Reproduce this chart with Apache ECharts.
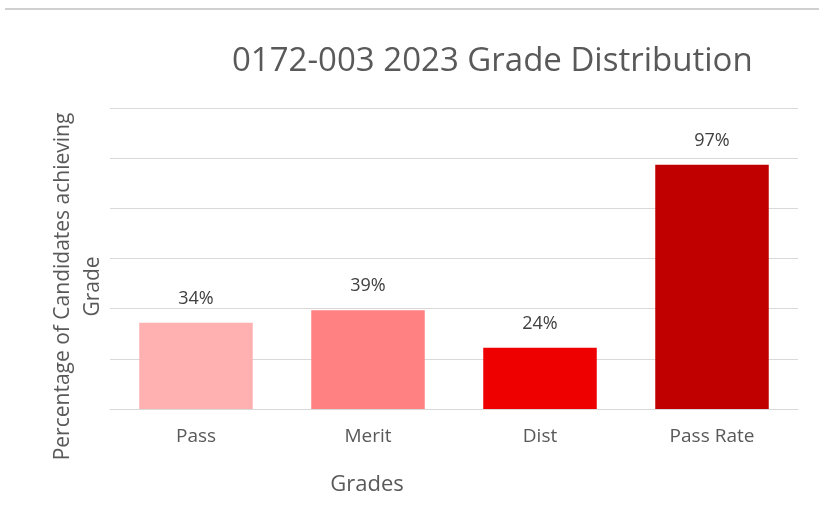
<!DOCTYPE html>
<html><head><meta charset="utf-8">
<script src="https://cdn.jsdelivr.net/npm/echarts@6/dist/echarts.min.js"></script>
<style>html,body{margin:0;padding:0;background:#fff}#c{width:819px;height:522px}</style>
</head><body><div id="c"></div>
<script>
const categories = ['Pass', 'Merit', 'Dist', 'Pass Rate'];
const values = [34.4, 39.4, 24.4, 97.4];
const labels = ['34%', '39%', '24%', '97%'];
const barColors = ['#FFB1B1', '#FF8181', '#EE0000', '#C00000'];

const chart = echarts.init(document.getElementById('c'), null, {renderer: 'canvas'});
const font = 'Open Sans';
chart.setOption({
  animation: false,
  backgroundColor: '#fff',
  title: {
    text: '0172-003 2023 Grade Distribution',
    left: 227, top: 40,
    textStyle: {fontFamily: font, fontSize: 33, fontWeight: 'normal', color: '#595959'}
  },
  graphic: [{
    type: 'line', shape: {x1: 5, y1: 9, x2: 819, y2: 9},
    style: {stroke: '#d0d0d0', lineWidth: 2}
  }],
  grid: {left: 110, right: 21, top: 108, bottom: 113},
  xAxis: {
    type: 'category', data: categories,
    axisTick: {show: false},
    axisLine: {lineStyle: {color: '#d9d9d9'}},
    axisLabel: {fontFamily: font, fontSize: 19, color: '#595959', margin: 18},
    name: 'Grades', nameLocation: 'middle', nameGap: 65,
    nameTextStyle: {fontFamily: font, fontSize: 22, color: '#595959', padding: [0, 174, 0, 0]}
  },
  yAxis: {
    type: 'value', min: 0, max: 120, interval: 20,
    axisLabel: {show: false},
    axisLine: {show: false}, axisTick: {show: false},
    splitLine: {lineStyle: {color: '#d9d9d9'}},
    name: 'Percentage of Candidates achieving\nGrade', nameLocation: 'middle', nameRotate: 90, nameGap: 2,
    nameTextStyle: {fontFamily: font, fontSize: 21, color: '#595959', lineHeight: 30, align: 'center', padding: [0, 56, 0, 0]}
  },
  series: [{
    type: 'bar', barWidth: '66%',
    data: values.map((v, i) => ({value: v, itemStyle: {color: barColors[i]}})),
    label: {
      show: true, position: 'top', distance: 15,
      fontFamily: font, fontSize: 18, color: '#404040',
      formatter: p => labels[p.dataIndex]
    }
  }]
});
</script></body></html>
